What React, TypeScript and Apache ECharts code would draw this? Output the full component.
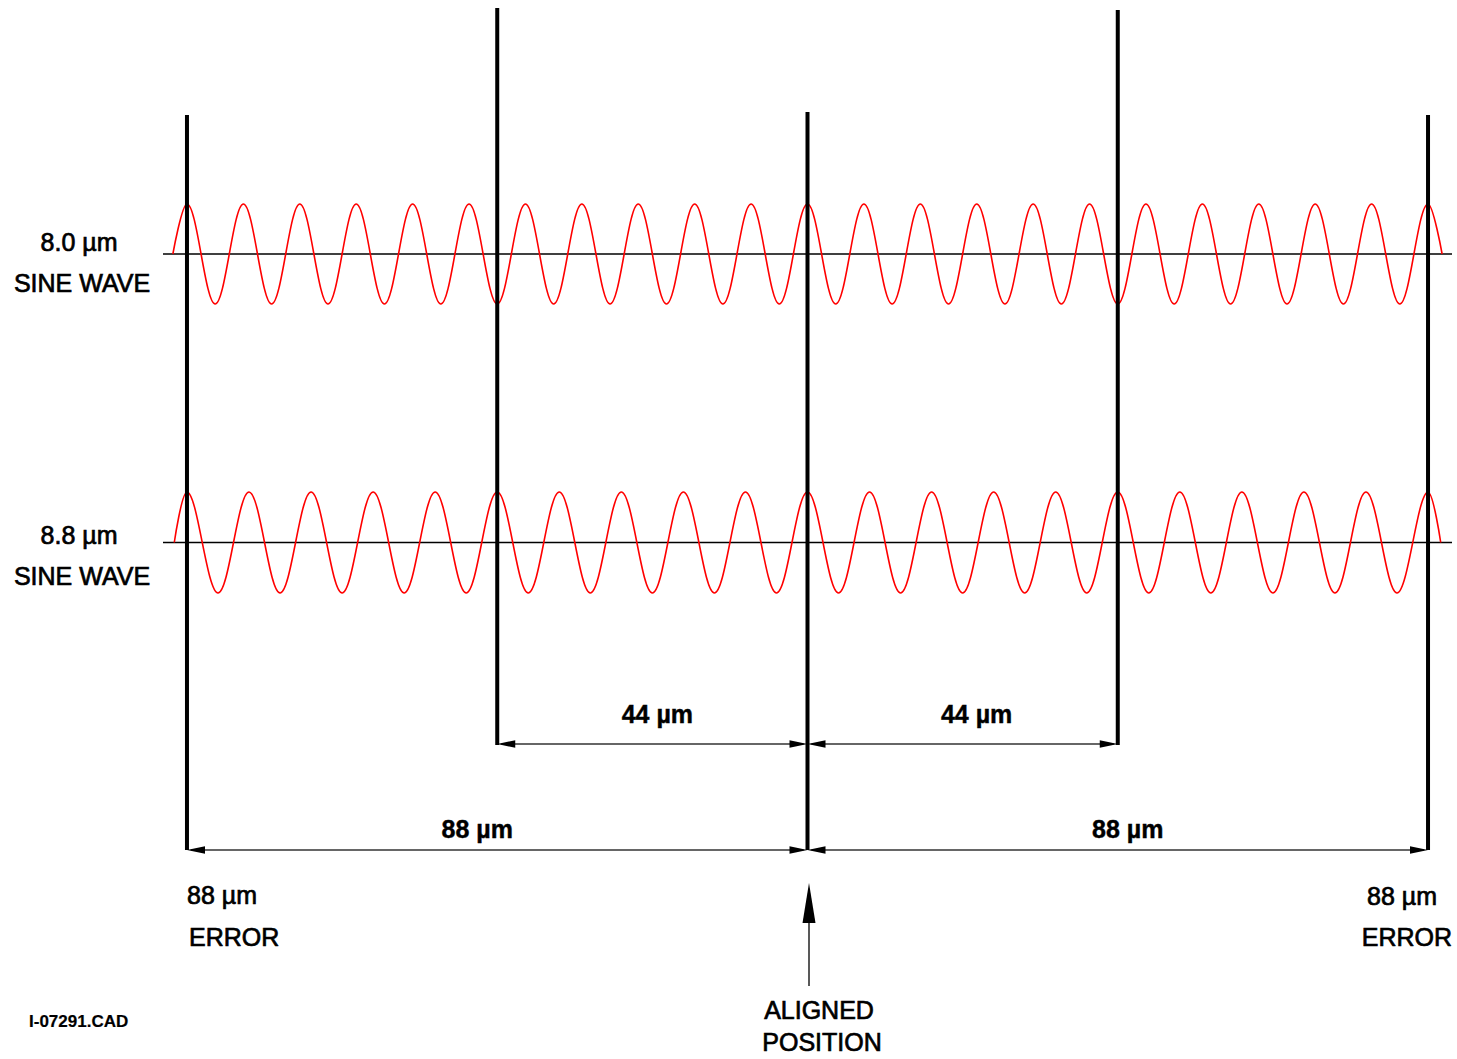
import React, { useEffect, useRef } from "react";
import * as echarts from "echarts";

const FONT = '"Liberation Sans", Arial, Helvetica, sans-serif';

// ---------- data ----------
const waveNames = ["8.0 µm", "8.8 µm"];
const waveCaption = "SINE WAVE";

// extrema of the 8.0 µm wave: [µm from aligned position, relative amplitude]
const wave80: [number, number][] = [
  [-90, 0], [-88, 1], [-84, -1], [-80, 1], [-76, -1], [-72, 1], [-68, -1], [-64, 1], [-60, -1],
  [-56, 1], [-52, -1], [-48, 1], [-44, -1], [-40, 1], [-36, -1], [-32, 1], [-28, -1], [-24, 1],
  [-20, -1], [-16, 1], [-12, -1], [-8, 1], [-4, -1], [0, 1], [4, -1], [8, 1], [12, -1], [16, 1],
  [20, -1], [24, 1], [28, -1], [32, 1], [36, -1], [40, 1], [44, -1], [48, 1], [52, -1], [56, 1],
  [60, -1], [64, 1], [68, -1], [72, 1], [76, -1], [80, 1], [84, -1], [88, 1], [90, 0],
];

// extrema of the 8.8 µm wave
const wave88: [number, number][] = [
  [-89.8, 0], [-88, 1], [-83.6, -1], [-79.2, 1], [-74.8, -1], [-70.4, 1], [-66, -1], [-61.6, 1],
  [-57.2, -1], [-52.8, 1], [-48.4, -1], [-44, 1], [-39.6, -1], [-35.2, 1], [-30.8, -1], [-26.4, 1],
  [-22, -1], [-17.6, 1], [-13.2, -1], [-8.8, 1], [-4.4, -1], [0, 1], [4.4, -1], [8.8, 1], [13.2, -1],
  [17.6, 1], [22, -1], [26.4, 1], [30.8, -1], [35.2, 1], [39.6, -1], [44, 1], [48.4, -1], [52.8, 1],
  [57.2, -1], [61.6, 1], [66, -1], [70.4, 1], [74.8, -1], [79.2, 1], [83.6, -1], [88, 1], [89.8, 0],
];

// alignment marker positions (µm from aligned position)
const markerX = [-88, -44, 0, 44, 88];

// dimension spans (µm)
const dimFrom = [-44, 0, -88, 0];
const dimTo = [0, 44, 0, 88];
const unit = "µm";

const errorLabel = "ERROR";
const alignedLabel = ["ALIGNED", "POSITION"];
const drawingId = "I-07291.CAD";

// ---------- layout ----------
const X_MIN = -91.4;
const X_MAX = 91.4;
const GRID_LEFT = 163;
const GRID_WIDTH = 1289;
const markerTop = [115, 8, 112, 10, 115];
const markerBottom = [850, 745, 850, 745, 850];
const dimRowY = [744, 744, 850, 850];
const dimLabelY = [714, 714, 829, 829];
const dimLabelDx = [5, 14, -20, 10];

export default function App() {
  const ref = useRef<HTMLDivElement>(null);

  useEffect(() => {
    if (!ref.current) return;
    const chart = echarts.init(ref.current, undefined, { renderer: "svg" });

    const xAxisBase = { type: "value", min: X_MIN, max: X_MAX, show: false };
    const markerData = markerX.map((x, i) => [x, markerTop[i], markerBottom[i]]);
    const dimData = dimFrom.map((f, i) => [f, dimTo[i], dimRowY[i], dimLabelY[i], dimLabelDx[i]]);

    const waveSeries = (data: [number, number][], idx: number) => ({
      type: "line",
      xAxisIndex: idx,
      yAxisIndex: idx,
      data,
      smooth: 0.36,
      showSymbol: false,
      symbol: "none",
      clip: false,
      z: 3,
      lineStyle: { color: "#ff0000", width: 1.6 },
    });
    const baseSeries = (idx: number) => ({
      type: "line",
      xAxisIndex: idx,
      yAxisIndex: idx,
      data: [[X_MIN, 0], [X_MAX, 0]],
      showSymbol: false,
      symbol: "none",
      clip: false,
      z: 2,
      lineStyle: { color: "#000", width: 1.3 },
    });

    const textStyle = (text: string, size: number, weight: string, align: string, sw = 0.7) => ({
      text,
      fill: "#000",
      stroke: "#000",
      lineWidth: sw,
      fontSize: size,
      fontFamily: FONT,
      fontWeight: weight,
      align,
      verticalAlign: "middle",
    });

    const graphic: any[] = [];
    const labelRows = [242, 535];
    waveNames.forEach((n, i) => {
      graphic.push({ type: "text", x: 79, y: labelRows[i], style: textStyle(n, 25, "normal", "center") });
      graphic.push({ type: "text", x: 82, y: labelRows[i] + 41, style: textStyle(waveCaption, 25, "normal", "center") });
    });
    graphic.push({ type: "text", x: 187, y: 895, style: textStyle(`${Math.abs(markerX[0])} ${unit}`, 25, "normal", "left") });
    graphic.push({ type: "text", x: 189, y: 937, style: textStyle(errorLabel, 25, "normal", "left") });
    graphic.push({ type: "text", x: 1437, y: 896, style: textStyle(`${markerX[4]} ${unit}`, 25, "normal", "right") });
    graphic.push({ type: "text", x: 1452, y: 937, style: textStyle(errorLabel, 25, "normal", "right") });
    graphic.push({ type: "text", x: 819, y: 1010, style: textStyle(alignedLabel[0], 25, "normal", "center") });
    graphic.push({ type: "text", x: 822, y: 1042, style: textStyle(alignedLabel[1], 25, "normal", "center") });
    graphic.push({ type: "text", x: 29, y: 1021, style: textStyle(drawingId, 17, "bold", "left", 0.2) });

    chart.setOption({
      animation: false,
      backgroundColor: "#fff",
      grid: [
        { left: GRID_LEFT, width: GRID_WIDTH, top: 204, height: 100 },
        { left: GRID_LEFT, width: GRID_WIDTH, top: 492, height: 101 },
        { left: GRID_LEFT, width: GRID_WIDTH, top: 0, height: 1059 },
      ],
      xAxis: [
        { ...xAxisBase, gridIndex: 0 },
        { ...xAxisBase, gridIndex: 1 },
        { ...xAxisBase, gridIndex: 2 },
      ],
      yAxis: [
        { type: "value", min: -1, max: 1, show: false, gridIndex: 0 },
        { type: "value", min: -1, max: 1, show: false, gridIndex: 1 },
        { type: "value", min: 0, max: 1059, inverse: true, show: false, gridIndex: 2 },
      ],
      series: [
        baseSeries(0),
        baseSeries(1),
        waveSeries(wave80, 0),
        waveSeries(wave88, 1),
        {
          type: "custom",
          xAxisIndex: 2,
          yAxisIndex: 2,
          data: markerData,
          encode: { x: 0, y: [1, 2] },
          z: 5,
          renderItem: (_p: any, api: any) => {
            const a = api.coord([api.value(0), api.value(1)]);
            const b = api.coord([api.value(0), api.value(2)]);
            return {
              type: "line",
              shape: { x1: a[0], y1: a[1], x2: b[0], y2: b[1] },
              style: { stroke: "#000", lineWidth: 4 },
            };
          },
        },
        {
          type: "custom",
          xAxisIndex: 2,
          yAxisIndex: 2,
          data: dimData,
          encode: { x: [0, 1], y: 2 },
          z: 6,
          renderItem: (_p: any, api: any) => {
            const f = api.value(0);
            const t = api.value(1);
            const p0 = api.coord([f, api.value(2)]);
            const p1 = api.coord([t, api.value(2)]);
            const ly = api.coord([f, api.value(3)])[1];
            const dx = api.value(4);
            const L = 18;
            const W = 3.8;
            return {
              type: "group",
              children: [
                {
                  type: "line",
                  shape: { x1: p0[0] + 4, y1: p0[1], x2: p1[0] - 4, y2: p1[1] },
                  style: { stroke: "#333", lineWidth: 1.5 },
                },
                {
                  type: "polygon",
                  shape: { points: [[p0[0], p0[1]], [p0[0] + L, p0[1] - W], [p0[0] + L, p0[1] + W]] },
                  style: { fill: "#000" },
                },
                {
                  type: "polygon",
                  shape: { points: [[p1[0], p1[1]], [p1[0] - L, p1[1] - W], [p1[0] - L, p1[1] + W]] },
                  style: { fill: "#000" },
                },
                {
                  type: "text",
                  x: (p0[0] + p1[0]) / 2 + dx,
                  y: ly,
                  style: {
                    text: `${Math.abs(t - f)} ${unit}`,
                    fill: "#000",
                    stroke: "#000",
                    lineWidth: 0.4,
                    fontSize: 25,
                    fontFamily: FONT,
                    fontWeight: "bold",
                    align: "center",
                    verticalAlign: "middle",
                  },
                },
              ],
            };
          },
        },
        {
          type: "custom",
          xAxisIndex: 2,
          yAxisIndex: 2,
          data: [[markerX[2], 883, 986]],
          encode: { x: 0, y: [1, 2] },
          z: 6,
          renderItem: (_p: any, api: any) => {
            const tip = api.coord([api.value(0), api.value(1)]);
            const end = api.coord([api.value(0), api.value(2)]);
            const x = tip[0] + 1.5;
            return {
              type: "group",
              children: [
                {
                  type: "line",
                  shape: { x1: x, y1: tip[1] + 30, x2: x, y2: end[1] },
                  style: { stroke: "#222", lineWidth: 1.5 },
                },
                {
                  type: "polygon",
                  shape: { points: [[x, tip[1]], [x - 6.5, tip[1] + 40], [x + 6.5, tip[1] + 40]] },
                  style: { fill: "#000" },
                },
              ],
            };
          },
        },
      ],
      graphic,
    });

    return () => chart.dispose();
  }, []);

  return (
    <div
      ref={ref}
      style={{ position: "absolute", left: 0, top: 0, width: 1457, height: 1059, background: "#fff" }}
    />
  );
}
